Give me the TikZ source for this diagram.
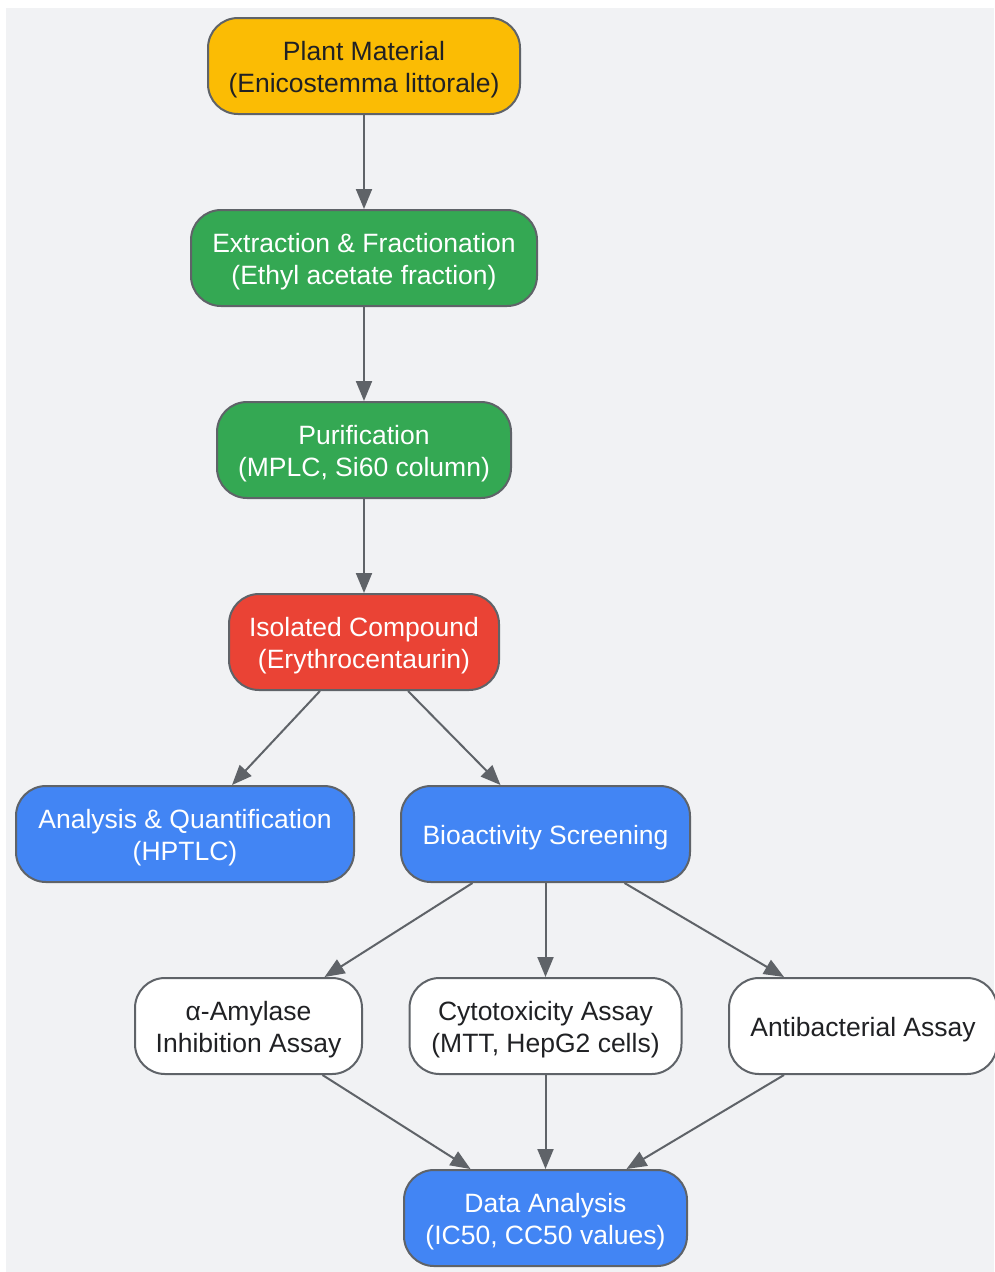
\documentclass[tikz,border=0pt]{standalone}
\usepackage{fontspec}
\setmainfont{Liberation Sans}
\usetikzlibrary{arrows.meta}
\definecolor{bggray}{HTML}{F1F2F4}
\definecolor{edgegray}{HTML}{5F6368}
\definecolor{gyellow}{HTML}{FBBC04}
\definecolor{ggreen}{HTML}{34A853}
\definecolor{gred}{HTML}{EA4335}
\definecolor{gblue}{HTML}{4285F4}
\definecolor{darktext}{HTML}{202124}
\tikzset{
  box/.style={draw=edgegray, line width=2pt, rounded corners=30pt, minimum height=96pt,
    inner sep=0pt},
  boxtext/.style={inner sep=0pt, align=center, font=\fontsize{26.5}{32}\selectfont},
  yellowbox/.style={box, fill=gyellow},
  greenbox/.style={box, fill=ggreen},
  redbox/.style={box, fill=gred},
  bluebox/.style={box, fill=gblue},
  whitebox/.style={box, fill=white},
  darkt/.style={boxtext, text=darktext},
  lightt/.style={boxtext, text=white},
  conn/.style={draw=edgegray, line width=2pt, -{Triangle[length=20pt,width=16pt]}}
}
\begin{document}
\begin{tikzpicture}[x=1pt,y=-1pt]
\useasboundingbox (0,0) rectangle (994,1272);
\fill[bggray] (6,8) rectangle (994,1272);

\node[yellowbox, minimum width=312pt] (plant) at (364,66) {};
\node[darkt] (plantT) at ([yshift=-4pt]plant.center) {Plant Material\\(Enicostemma littorale)};
\node[greenbox, minimum width=346pt] (extr) at (364,258) {};
\node[lightt] (extrT) at ([yshift=-4pt]extr.center) {Extraction \& Fractionation\\(Ethyl acetate fraction)};
\node[greenbox, minimum width=294pt] (puri) at (364,450) {};
\node[lightt] (puriT) at ([yshift=-4pt]puri.center) {Purification\\(MPLC, Si60 column)};
\node[redbox, minimum width=270pt] (iso) at (364,642) {};
\node[lightt] (isoT) at ([yshift=-4pt]iso.center) {Isolated Compound\\(Erythrocentaurin)};
\node[bluebox, minimum width=338pt] (ana) at (185,834) {};
\node[lightt] (anaT) at ([yshift=-4pt]ana.center) {Analysis \& Quantification\\(HPTLC)};
\node[bluebox, minimum width=289pt] (bio) at (545.5,834) {};
\node[lightt] (bioT) at ([yshift=-4pt]bio.center) {Bioactivity Screening};
\node[whitebox, minimum width=227pt] (amy) at (248.5,1026) {};
\node[darkt] (amyT) at ([yshift=-4pt]amy.center) {α-Amylase\\Inhibition Assay};
\node[whitebox, minimum width=272pt] (cyto) at (545.5,1026) {};
\node[darkt] (cytoT) at ([yshift=-4pt]cyto.center) {Cytotoxicity Assay\\(MTT, HepG2 cells)};
\node[whitebox, minimum width=268pt] (anti) at (863,1026) {};
\node[darkt] (antiT) at ([yshift=-4pt]anti.center) {Antibacterial Assay};
\node[bluebox, minimum width=283pt] (data) at (545.5,1218) {};
\node[lightt] (dataT) at ([yshift=-4pt]data.center) {Data Analysis\\(IC50, CC50 values)};

\draw[conn] (plant) -- (extr);
\draw[conn] (extr) -- (puri);
\draw[conn] (puri) -- (iso);
\draw[conn] ([xshift=-44pt]iso.south) -- ([xshift=47pt]ana.north);
\draw[conn] ([xshift=44pt]iso.south) -- ([xshift=-45pt]bio.north);
\draw[conn] ([xshift=-73pt]bio.south) -- ([xshift=76pt]amy.north);
\draw[conn] (bio) -- (cyto);
\draw[conn] ([xshift=79pt]bio.south) -- ([xshift=-79pt]anti.north);
\draw[conn] ([xshift=74pt]amy.south) -- ([xshift=-75pt]data.north);
\draw[conn] (cyto) -- (data);
\draw[conn] ([xshift=-79pt]anti.south) -- ([xshift=81pt]data.north);
\end{tikzpicture}
\end{document}
